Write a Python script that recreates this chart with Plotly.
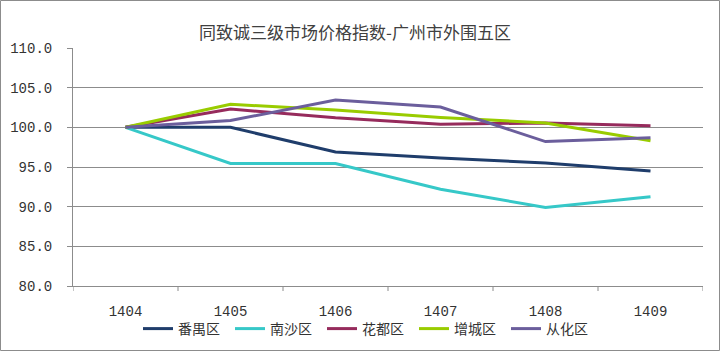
import plotly.graph_objects as go

categories = ["1404", "1405", "1406", "1407", "1408", "1409"]
panyu = [100.0, 100.0, 96.9, 96.15, 95.5, 94.5]
nansha = [100.0, 95.45, 95.45, 92.2, 89.9, 91.25]
huadu = [100.0, 102.3, 101.2, 100.4, 100.55, 100.2]
zengcheng = [100.0, 102.9, 102.2, 101.25, 100.55, 98.3]
conghua = [100.0, 100.85, 103.45, 102.55, 98.2, 98.7]

series = [
    ("番禺区", panyu, "#1F3D6B"),
    ("南沙区", nansha, "#36C8C8"),
    ("花都区", huadu, "#962B5C"),
    ("增城区", zengcheng, "#99CC00"),
    ("从化区", conghua, "#6B5E9C"),
]

W, H = 720, 351
L, R, T, B = 73, 17, 48, 65
pw, ph = W - L - R, H - T - B

fig = go.Figure()
xs = list(range(len(categories)))
for name, vals, col in series:
    fig.add_trace(go.Scatter(x=xs, y=vals, name=name, mode="lines",
                             line=dict(color=col, width=3)))

tickfont = dict(family="Liberation Mono, DejaVu Sans Mono", size=14, color="#333333")
fig.update_layout(
    width=W, height=H,
    margin=dict(l=L, r=R, t=T, b=B, autoexpand=False),
    paper_bgcolor="white", plot_bgcolor="white",
    title=dict(text="同致诚三级市场价格指数-广州市外围五区",
               x=(355) / W, xanchor="center", y=1 - 33 / H, yanchor="middle",
               font=dict(family="Noto Sans CJK SC", size=17, color="#404040")),
    xaxis=dict(range=[-0.5, 5.5], tickmode="array", tickvals=xs, ticktext=categories,
               showgrid=False, showline=True, linecolor="#8C8C8C", linewidth=1,
               ticks="", tickfont=tickfont, zeroline=False, fixedrange=True,
               ticklabelstandoff=12),
    yaxis=dict(range=[80, 110], tickvals=[80, 85, 90, 95, 100, 105, 110],
               tickformat=".1f", showgrid=True, gridcolor="#8C8C8C", gridwidth=1,
               showline=True, linecolor="#8C8C8C", linewidth=1, ticks="outside",
               ticklen=5, tickcolor="#8C8C8C", tickfont=tickfont, zeroline=False,
               ticklabelstandoff=12),
    legend=dict(orientation="h", x=368 / W, xanchor="center",
                y=1 - 329 / H, yanchor="middle", yref="container", xref="container",
                font=dict(family="Noto Sans CJK SC", size=14, color="#333333"),
                entrywidth=47, entrywidthmode="pixels",
                tracegroupgap=0, bgcolor="rgba(0,0,0,0)"),
    showlegend=True,
)

# category boundary tick marks on the x axis
shapes = []
for i in range(len(categories) + 1):
    shapes.append(dict(type="line", xref="x", yref="paper", x0=i - 0.5, x1=i - 0.5,
                       y0=0, y1=-5 / ph, line=dict(color="#8C8C8C", width=1)))
# outer chart border
shapes.append(dict(type="rect", xref="paper", yref="paper",
                   x0=-(L - 0.5) / pw, x1=(W - L - 0.5) / pw,
                   y0=-(B - 0.5) / ph, y1=(H - B - 0.5) / ph,
                   line=dict(color="#8C8C8C", width=1)))
fig.update_layout(shapes=shapes)

fig.write_html("out.html")
